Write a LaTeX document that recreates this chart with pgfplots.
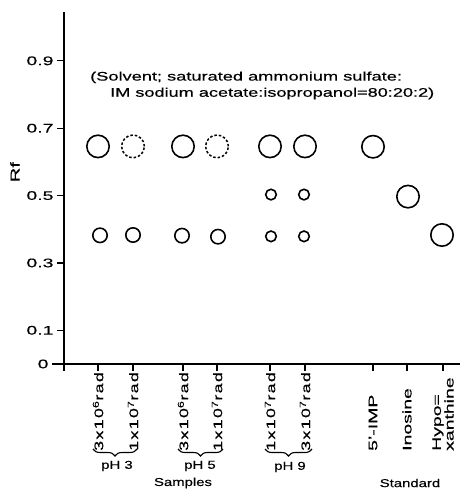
\documentclass[border=0pt]{standalone}
\usepackage{fontspec}
\usepackage{graphicx}
\setmainfont[FakeStretch=1.3, FakeBold=0.4]{Liberation Sans}
\newfontfamily\spaced[FakeStretch=1.3, FakeBold=0.4, LetterSpace=10]{Liberation Sans}
\usepackage{pgfplots}
\pgfplotsset{compat=1.18}
\usetikzlibrary{decorations.pathreplacing}

\newcommand{\sx}[1]{\scalebox{1.2}[1]{#1}}
\newcommand{\rad}[2]{\scalebox{1.1}[1]{\spaced #1x10\textsuperscript{#2}rad}}

\begin{document}
\begin{tikzpicture}
\begin{axis}[name=ax,
  width=396bp, height=352bp, scale only axis,
  xmin=64, xmax=460, ymin=0, ymax=1.045,
  axis x line=bottom, axis y line=left,
  axis line style={-, line width=1.6bp},
  clip=false,
  tick align=outside, major tick length=7bp,
  tick style={line width=1.3bp, black},
  xtick={64,98,133,183,217,270,305,373,407,443},
  xticklabels={,\rad{3}{6},\rad{1}{7},\rad{3}{6},\rad{1}{7},\rad{1}{7},\rad{3}{7},
    \sx{5'-IMP},\sx{Inosine},{\sx{Hypo=}\\\sx{xanthine}}},
  xticklabel style={rotate=90, anchor=west, align=left, inner sep=0pt,
    font=\fontsize{12.5}{10.5}\selectfont},
  xticklabel shift=80bp,
  ytick={0.1,0.3,0.5,0.7,0.9},
  yticklabels={\sx{0.1},\sx{0.3},\sx{0.5},\sx{0.7},\sx{0.9}},
  extra y ticks={0}, extra y tick labels={\sx{0}},
  extra y tick style={major tick length=12bp},
  yticklabel style={font=\fontsize{12.5}{12}\selectfont},
  /pgf/number format/assume math mode=true,
  ylabel={\sx{Rf}},
  ylabel style={at={(axis description cs:-0.124,0.545)}, anchor=center,
    font=\fontsize{13}{12}\selectfont},
]
% large spots
\addplot[only marks, mark=o, mark size=11.2bp, mark options={line width=1.6bp}]
  coordinates {(98,0.646) (183,0.646) (270,0.646) (305,0.646) (373,0.645) (408,0.497) (442,0.383)};
% faint spots (dashed)
\addplot[only marks, mark=o, mark size=11.4bp, mark options={line width=1.5bp, dash pattern=on 2.5bp off 2bp}]
  coordinates {(133,0.646) (217,0.646)};
% medium spots
\addplot[only marks, mark=o, mark size=7.2bp, mark options={line width=1.6bp}]
  coordinates {(100,0.382) (133,0.383) (182,0.381) (218,0.378)};
% small spots
\addplot[only marks, mark=o, mark size=5.3bp, mark options={line width=1.6bp}]
  coordinates {(271,0.503) (304,0.503) (271,0.379) (304,0.379)};

\node[anchor=west, font=\fontsize{12.5}{12}\selectfont, inner sep=0pt]
  at (axis cs:90,0.851) {\scalebox{1.125}[1]{(Solvent; saturated ammonium sulfate:}};
\node[anchor=west, font=\fontsize{12.5}{12}\selectfont, inner sep=0pt]
  at (axis cs:110,0.803) {\scalebox{1.12}[1]{IM sodium acetate:isopropanol=80:20:2)}};

\draw[line width=1.1bp, decorate, decoration={brace, mirror, amplitude=7bp}]
  ([yshift=-85bp]axis cs:93,0) -- ([yshift=-85bp]axis cs:137,0);
\draw[line width=1.1bp, decorate, decoration={brace, mirror, amplitude=7bp}]
  ([yshift=-85bp]axis cs:178,0) -- ([yshift=-85bp]axis cs:223,0);
\draw[line width=1.1bp, decorate, decoration={brace, mirror, amplitude=7bp}]
  ([yshift=-85bp]axis cs:265,0) -- ([yshift=-85bp]axis cs:312,0);

\node[font=\fontsize{11.5}{12}\selectfont] at ([yshift=-102bp]axis cs:117,0) {pH 3};
\node[font=\fontsize{11.5}{12}\selectfont] at ([yshift=-102bp]axis cs:200,0) {pH 5};
\node[font=\fontsize{11.5}{12}\selectfont] at ([yshift=-103bp]axis cs:290,0) {pH 9};
\node[font=\fontsize{11.5}{12}\selectfont] at ([yshift=-119bp]axis cs:183,0) {Samples};
\node[font=\fontsize{11.5}{12}\selectfont] at ([yshift=-119bp]axis cs:410,0) {Standard};
\end{axis}
\pgfresetboundingbox
\path (ax.south west) ++(-64bp,-126bp) rectangle ++(461bp,490bp);
\end{tikzpicture}
\end{document}
